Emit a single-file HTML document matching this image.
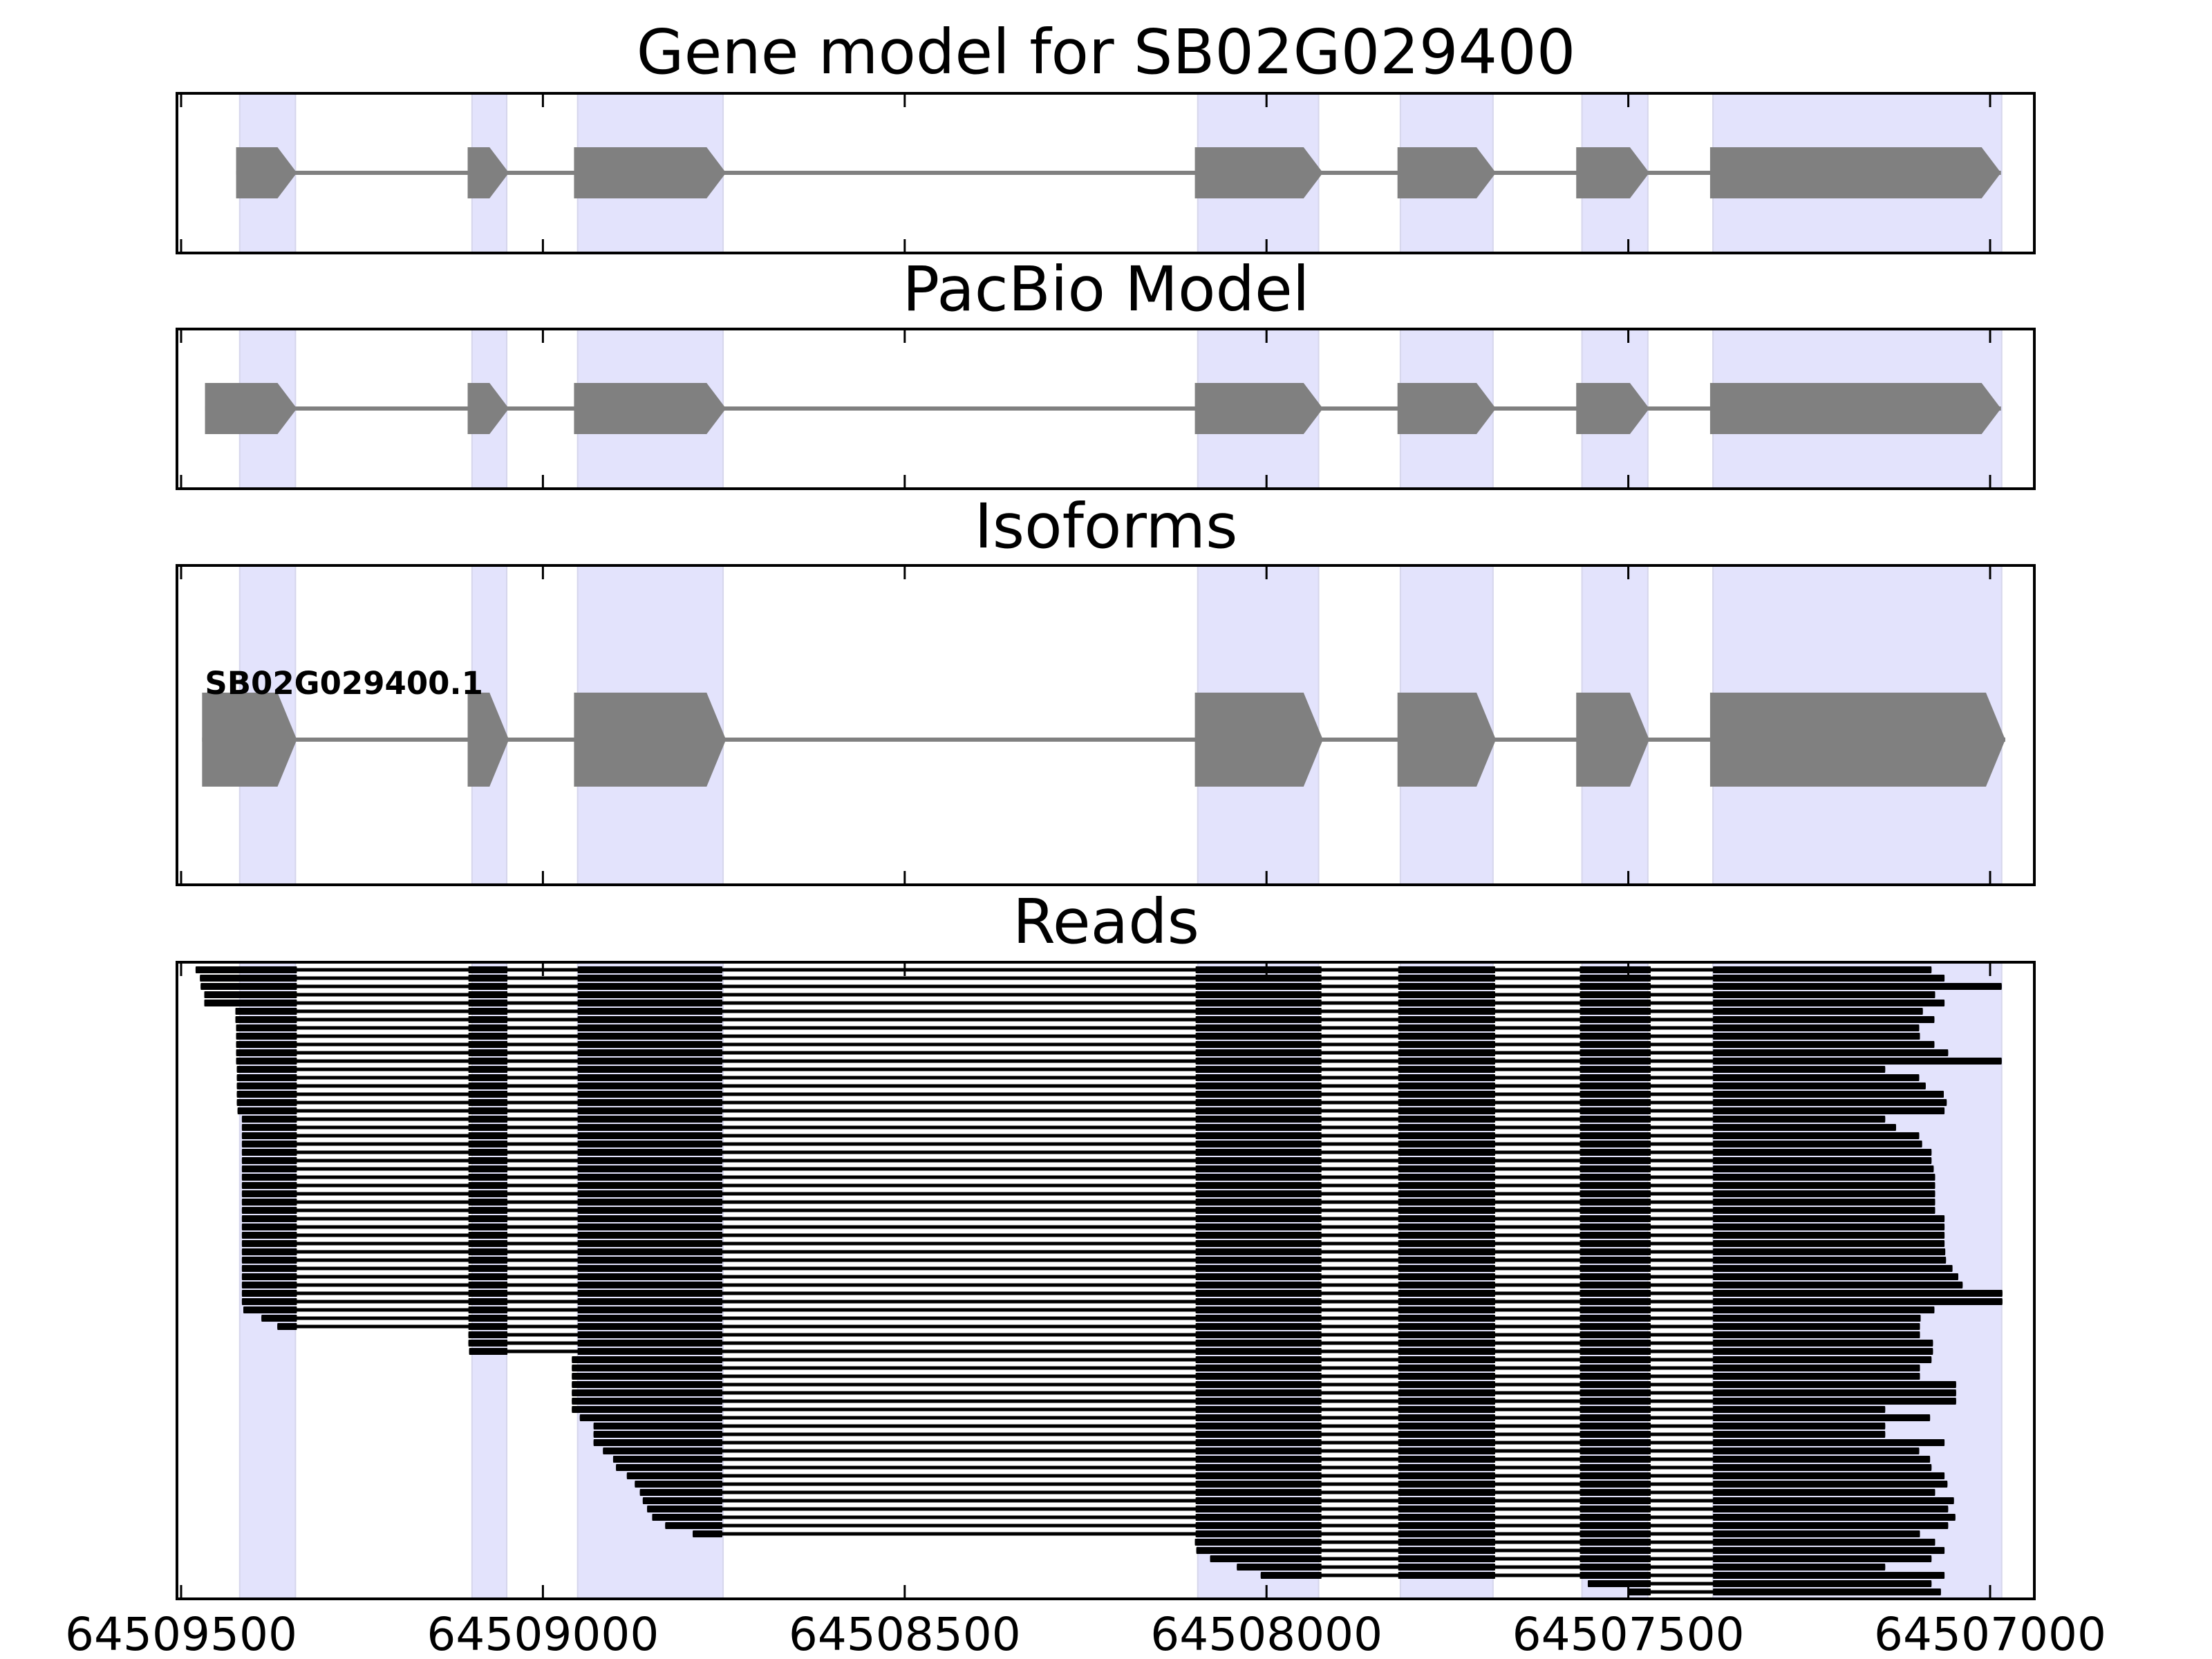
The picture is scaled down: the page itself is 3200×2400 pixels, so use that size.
<!DOCTYPE html>
<html><head><meta charset="utf-8"><style>
html,body{margin:0;padding:0;background:#fff}
svg{display:block}
text{font-family:"DejaVu Sans","Liberation Sans",sans-serif}
</style></head><body>
<svg id="chart" xmlns="http://www.w3.org/2000/svg" width="3200" height="2400" viewBox="0 0 3200 2400"></svg>
<script>
// ---- data ----
const tickValues = [64509500, 64509000, 64508500, 64508000, 64507500, 64507000];
const tickLabels = ["64509500", "64509000", "64508500", "64508000", "64507500", "64507000"];
const shadeStarts = [64509419, 64509098, 64508952, 64508095, 64507815, 64507564, 64507383];
const shadeEnds   = [64509342, 64509050, 64508751, 64507928, 64507687, 64507473, 64506984];
const geneStarts = [64509424, 64509104, 64508957, 64508099, 64507819, 64507572, 64507387];
const geneEnds   = [64509340, 64509047, 64508747, 64507922, 64507683, 64507471, 64506985];
const pacbioFirstStart = 64509467;
const isoFirstStart = 64509471;
const isoLastEnd = 64506979;
const isoformName = "SB02G029400.1";
const readExonStarts = [64509419, 64509103, 64508952, 64508098, 64507818, 64507567, 64507383];
const readExonEnds   = [64509340, 64509049, 64508752, 64507924, 64507684, 64507469, 64506980];
const readStarts = [64509480,64509474,64509473,64509468,64509468,64509425,64509425,64509424,64509424,64509424,
64509424,64509424,64509423,64509423,64509423,64509423,64509423,64509422,64509416,64509416,
64509416,64509416,64509416,64509416,64509416,64509416,64509416,64509416,64509416,64509416,
64509416,64509416,64509416,64509416,64509416,64509416,64509416,64509416,64509416,64509416,
64509416,64509414,64509389,64509367,64509103,64509103,64509102,64508960,64508960,64508960,
64508960,64508960,64508960,64508960,64508949,64508930,64508930,64508930,64508917,64508903,
64508899,64508884,64508873,64508866,64508862,64508856,64508849,64508831,64508793,64508099,
64508097,64508078,64508041,64508008,64507556,64507500];
const readEnds = [64507081,64507063,64506984,64507076,64507063,64507093,64507077,64507098,64507097,64507077,
64507058,64506984,64507145,64507098,64507089,64507064,64507060,64507063,64507145,64507130,
64507098,64507094,64507081,64507081,64507078,64507076,64507076,64507076,64507076,64507076,
64507063,64507063,64507063,64507063,64507062,64507061,64507052,64507044,64507038,64506983,
64506983,64507077,64507096,64507097,64507097,64507079,64507079,64507081,64507097,64507097,
64507047,64507047,64507047,64507145,64507083,64507145,64507145,64507063,64507098,64507083,
64507081,64507063,64507059,64507076,64507050,64507058,64507048,64507058,64507097,64507076,
64507063,64507081,64507145,64507063,64507081,64507068];

// ---- layout ----
const svg = document.getElementById('chart');
const NS = 'http://www.w3.org/2000/svg';
const X0 = 256, X1 = 2943;
function xs(v){ return 262 + (64509500 - v) * 1.0468; }
function mk(tag, attrs, parent){
  const e = document.createElementNS(NS, tag);
  for (const k in attrs) e.setAttribute(k, attrs[k]);
  (parent || svg).appendChild(e);
  return e;
}
const panels = [
  {top:135, bot:366, title:"Gene model for SB02G029400", ty:106, name:'gene-model-panel'},
  {top:476, bot:707, title:"PacBio Model", ty:449, name:'pacbio-model-panel'},
  {top:818, bot:1280, title:"Isoforms", ty:792, name:'isoforms-panel'},
  {top:1392, bot:2313, title:"Reads", ty:1364, name:'reads-panel'}
];
panels.forEach((p, pi) => {
  const g = mk('g', {});
  
  
  for (let i = 0; i < shadeStarts.length; i++) {
    const a = xs(shadeStarts[i]), b = xs(shadeEnds[i]);
    const r = mk('rect', {x:a, y:p.top, width:b-a, height:p.bot-p.top, fill:'#e3e3fc', stroke:'#d6d6ec', 'stroke-width':2}, g);
    
    
  }
  const t = mk('text', {x:1600, y:p.ty, 'font-size':89, 'text-anchor':'middle', fill:'#000'}, g);
  t.textContent = p.title;
  
  
  p.g = g;
});

function geneModel(g, starts, ends, cy, h, tip){
  const first = xs(starts[0]), last = xs(ends[ends.length-1]);
  const ln = mk('line', {x1:first, x2:last, y1:cy, y2:cy, stroke:'#808080', 'stroke-width':6}, g);
  
  
  for (let i = 0; i < starts.length; i++) {
    const a = xs(starts[i]), b = xs(ends[i]);
    const pts = [[a,cy-h/2],[b-tip,cy-h/2],[b,cy],[b-tip,cy+h/2],[a,cy+h/2]].map(q=>q.join(',')).join(' ');
    const pg = mk('polygon', {points:pts, fill:'#808080'}, g);
    
    
  }
}
geneModel(panels[0].g, geneStarts, geneEnds, 250, 74, 28);
const pbStarts = geneStarts.slice(); pbStarts[0] = pacbioFirstStart;
geneModel(panels[1].g, pbStarts, geneEnds, 591, 74, 28);
const isoStarts = geneStarts.slice(); isoStarts[0] = isoFirstStart;
const isoEnds = geneEnds.slice(); isoEnds[isoEnds.length-1] = isoLastEnd;
geneModel(panels[2].g, isoStarts, isoEnds, 1070, 136, 28);
const lab = mk('text', {x:xs(isoFirstStart)+4, y:1004, 'font-size':45, 'font-weight':'bold', fill:'#000'}, panels[2].g);
lab.textContent = isoformName;



// reads
const rg = panels[3].g;
for (let i = 0; i < readStarts.length; i++) {
  const cy = 1403 + 12 * i;
  const s = readStarts[i], e = readEnds[i];
  const blocks = [];
  for (let k = 0; k < readExonStarts.length; k++) {
    if (readExonEnds[k] < s && readExonStarts[k] > e) {
      blocks.push([readExonStarts[k], Math.max(e, readExonEnds[k])]);
    }
  }
  if (!blocks.length) continue;
  blocks[0][0] = s;
  blocks[blocks.length-1][1] = e;
  const row = mk('g', {}, rg);
  
  
  const il = mk('line', {x1:xs(blocks[0][0]), x2:xs(blocks[blocks.length-1][1]), y1:cy, y2:cy, stroke:'#000', 'stroke-width':5}, row);
  
  
  blocks.forEach(bk => {
    const a = xs(bk[0]), b = xs(bk[1]);
    const r = mk('rect', {x:a, y:cy-5, width:b-a, height:10, fill:'#000', rx:1}, row);
    
    
  });
}

// frames and ticks
panels.forEach(p => {
  const f = mk('rect', {x:X0, y:p.top, width:X1-X0, height:p.bot-p.top, fill:'none', stroke:'#000', 'stroke-width':4});
  
  
  tickValues.forEach(v => {
    const x = xs(v);
    const t1 = mk('line', {x1:x, x2:x, y1:p.top, y2:p.top+20, stroke:'#000', 'stroke-width':3});
    
    
    const t2 = mk('line', {x1:x, x2:x, y1:p.bot-20, y2:p.bot, stroke:'#000', 'stroke-width':3});
    
    
  });
});
tickValues.forEach((v, i) => {
  const t = mk('text', {x:xs(v), y:2387, 'font-size':66, 'text-anchor':'middle', fill:'#000'});
  t.textContent = tickLabels[i];
  
  
});
</script>
</body></html>
